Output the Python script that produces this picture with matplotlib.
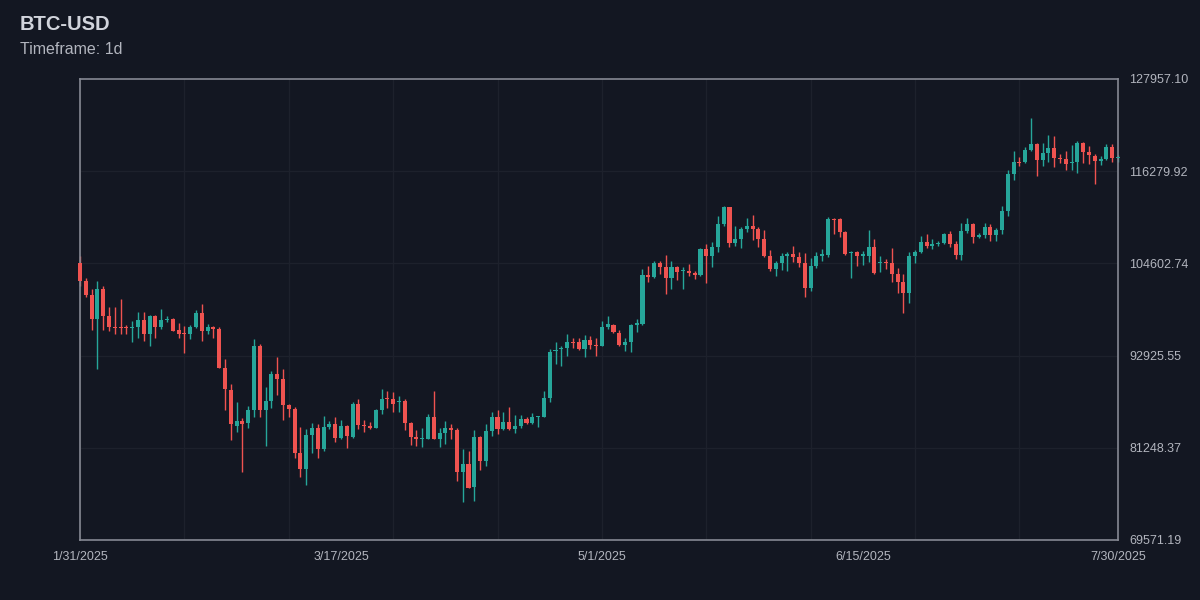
import numpy as np
import matplotlib.pyplot as plt

# daily candles, prices in thousands of USD
opens = [104.6, 102.4, 100.6, 97.6, 101.4, 97.9, 96.6, 96.5, 96.5, 96.4,
         96.5, 97.4, 95.7, 97.9, 96.5, 97.4, 97.6, 96.2, 95.7, 95.6,
         96.6, 98.3, 96.1, 96.5, 96.3, 91.4, 88.6, 84.0, 84.7, 84.4,
         86.0, 94.2, 86.0, 87.2, 90.6, 89.9, 86.7, 86.1, 80.6, 78.6,
         82.9, 83.7, 81.1, 83.9, 84.3, 82.5, 84.0, 82.6, 86.8, 84.1,
         84.0, 83.8, 86.0, 87.5, 87.4, 87.0, 87.2, 84.4, 82.6, 82.3,
         82.4, 85.1, 82.4, 83.1, 83.8, 83.5, 78.2, 79.2, 76.3, 82.6,
         79.6, 83.4, 85.2, 83.6, 84.5, 83.6, 84.0, 84.9, 84.4, 85.1,
         85.2, 87.5, 93.5, 93.7, 93.9, 94.6, 94.6, 93.7, 94.9, 94.3,
         94.2, 96.5, 96.8, 95.8, 94.3, 94.7, 96.8, 96.9, 103.1, 102.9,
         104.7, 104.1, 102.8, 104.1, 103.6, 103.6, 103.4, 103.1, 106.4, 105.6,
         106.7, 109.6, 111.7, 107.2, 107.7, 109.0, 109.3, 108.9, 107.7, 105.6,
         103.9, 104.6, 105.6, 105.8, 105.4, 104.7, 101.5, 104.3, 105.6, 105.7,
         110.2, 110.2, 108.6, 105.9, 106.0, 105.6, 105.5, 106.7, 104.6, 104.8,
         104.6, 103.3, 102.2, 100.9, 105.5, 106.0, 107.3, 106.8, 107.0, 107.2,
         108.3, 107.1, 105.7, 108.7, 109.6, 108.0, 108.2, 109.2, 108.2, 108.8,
         111.2, 115.9, 117.4, 117.4, 119.0, 119.7, 117.7, 118.6, 119.2, 117.9,
         117.8, 117.3, 117.4, 119.9, 118.7, 118.2, 117.6, 117.8, 119.3, 117.9]
highs = [105.5, 102.7, 101.4, 102.4, 101.7, 99.1, 99.1, 100.1, 96.8, 97.3,
         98.4, 98.5, 98.1, 98.1, 98.8, 97.9, 97.7, 97.0, 96.7, 96.8,
         98.7, 99.5, 96.9, 96.7, 96.5, 92.5, 89.3, 87.0, 85.0, 86.5,
         95.0, 94.4, 88.9, 91.0, 92.8, 91.2, 86.8, 86.4, 83.9, 83.6,
         84.4, 84.2, 85.3, 84.6, 85.1, 84.8, 84.1, 87.1, 87.4, 84.8,
         84.5, 86.1, 88.7, 88.5, 88.3, 87.8, 87.4, 84.5, 83.5, 83.8,
         85.5, 88.4, 83.8, 84.6, 84.2, 83.7, 81.1, 80.8, 83.5, 82.7,
         84.3, 85.8, 86.0, 85.8, 86.4, 85.4, 85.4, 85.1, 85.6, 85.3,
         88.5, 93.7, 94.6, 94.1, 95.7, 95.2, 95.2, 95.5, 95.4, 95.2,
         97.3, 97.9, 96.9, 96.2, 95.1, 96.9, 97.6, 103.9, 104.3, 104.9,
         104.9, 105.7, 104.9, 104.3, 104.1, 104.5, 103.6, 106.5, 107.0, 107.3,
         110.6, 111.9, 111.8, 109.3, 109.2, 110.3, 110.7, 109.2, 108.8, 106.3,
         104.9, 105.9, 106.0, 106.8, 106.0, 105.9, 105.3, 106.0, 106.4, 110.5,
         110.4, 110.4, 108.7, 106.2, 106.2, 106.2, 108.8, 107.7, 105.5, 105.2,
         106.5, 104.0, 103.3, 106.0, 106.3, 108.1, 108.3, 107.7, 107.5, 108.4,
         108.7, 107.4, 109.7, 110.4, 109.7, 108.4, 109.7, 109.6, 109.1, 111.9,
         116.4, 118.8, 118.1, 119.3, 123.0, 119.9, 119.9, 120.9, 120.7, 118.4,
         118.8, 119.6, 120.1, 120.0, 119.5, 118.4, 118.2, 119.7, 119.7, 118.3]
lows = [101.8, 100.3, 96.2, 91.2, 96.2, 96.1, 95.7, 95.6, 95.7, 94.7,
        95.2, 94.8, 94.1, 95.2, 96.3, 97.2, 96.0, 95.2, 93.3, 95.0,
        96.4, 94.8, 95.7, 95.2, 91.3, 86.0, 82.2, 83.2, 78.2, 83.8,
        85.1, 85.1, 81.5, 86.3, 87.9, 84.8, 85.2, 80.0, 77.5, 76.6,
        80.6, 79.9, 80.8, 83.6, 82.0, 82.4, 81.2, 82.5, 83.6, 83.2,
        83.6, 83.8, 85.5, 86.3, 85.8, 85.8, 83.5, 81.6, 81.5, 81.3,
        82.4, 82.3, 81.3, 81.7, 82.4, 77.1, 74.4, 76.1, 74.5, 78.4,
        78.9, 82.8, 83.0, 83.5, 83.5, 83.1, 83.7, 84.3, 84.3, 83.9,
        85.1, 87.1, 91.9, 91.6, 92.9, 93.9, 93.6, 92.8, 93.7, 92.9,
        94.1, 96.3, 95.8, 94.2, 93.5, 93.4, 95.9, 96.8, 102.3, 102.8,
        103.3, 100.7, 101.4, 102.5, 101.4, 103.0, 102.6, 103.0, 102.1, 104.2,
        106.1, 109.3, 106.7, 106.8, 106.6, 108.6, 107.6, 106.7, 105.4, 103.6,
        103.0, 103.8, 103.6, 104.8, 104.2, 100.4, 101.1, 104.0, 104.9, 105.4,
        108.3, 108.0, 105.7, 102.8, 104.3, 104.4, 104.8, 103.3, 103.5, 103.9,
        102.3, 100.9, 98.3, 99.6, 104.7, 105.9, 106.5, 106.4, 106.8, 107.1,
        106.7, 105.2, 105.0, 108.5, 107.2, 107.8, 107.8, 107.5, 107.5, 108.3,
        110.6, 115.2, 116.9, 117.3, 118.9, 115.7, 117.0, 117.4, 116.8, 117.3,
        116.4, 116.4, 116.1, 117.3, 117.2, 114.7, 117.1, 117.7, 117.4, 117.5]
closes = [102.4, 100.6, 97.6, 101.4, 97.9, 96.5, 96.4, 96.4, 96.4, 96.5,
          97.4, 95.7, 97.9, 96.5, 97.4, 97.6, 96.1, 95.7, 95.6, 96.6,
          98.3, 96.1, 96.5, 96.3, 91.4, 88.7, 84.3, 84.6, 84.3, 86.0,
          94.2, 86.0, 87.2, 90.6, 89.9, 86.7, 86.1, 80.6, 78.6, 82.9,
          83.7, 81.1, 83.9, 84.3, 82.5, 84.0, 82.7, 86.8, 84.1, 84.0,
          83.8, 86.0, 87.4, 87.4, 86.8, 87.2, 84.4, 82.6, 82.3, 82.5,
          85.1, 82.4, 83.1, 83.8, 83.5, 78.2, 79.2, 76.2, 82.6, 79.6,
          83.4, 85.2, 83.6, 84.5, 83.6, 84.0, 84.9, 84.4, 85.1, 85.2,
          87.5, 93.4, 93.6, 93.8, 94.6, 94.5, 93.7, 94.9, 94.3, 94.2,
          96.5, 96.9, 95.9, 94.3, 94.7, 96.8, 97.0, 103.1, 102.9, 104.7,
          104.1, 102.8, 104.1, 103.5, 103.7, 103.4, 103.1, 106.4, 105.6, 106.7,
          109.6, 111.7, 107.2, 107.7, 109.0, 109.3, 108.9, 107.7, 105.6, 103.9,
          104.6, 105.6, 105.8, 105.4, 104.7, 101.5, 104.3, 105.6, 105.7, 110.2,
          110.1, 108.6, 105.8, 106.0, 105.5, 105.7, 106.7, 103.4, 104.8, 104.7,
          103.3, 102.2, 100.9, 105.5, 106.0, 107.3, 106.8, 107.0, 107.2, 108.3,
          107.1, 105.7, 108.7, 109.6, 108.0, 108.2, 109.2, 108.2, 108.8, 111.2,
          115.9, 117.4, 117.3, 119.0, 119.7, 117.7, 118.6, 119.2, 117.9, 117.8,
          117.2, 117.4, 119.9, 118.7, 118.3, 117.6, 117.8, 119.3, 117.9, 118.0]

date_ticks = [0, 45, 90, 135, 179]
date_labels = ['1/31/2025', '3/17/2025', '5/1/2025', '6/15/2025', '7/30/2025']
y_min, y_max = 69571.19, 127957.10

bg = '#131722'
up_col = '#26a69a'
down_col = '#ef5350'

o = np.array(opens) * 1000
h = np.array(highs) * 1000
l = np.array(lows) * 1000
c = np.array(closes) * 1000
x = np.arange(len(o))
cols = np.where(c >= o, up_col, down_col)

fig = plt.figure(figsize=(12, 6), dpi=100, facecolor=bg)
ax = fig.add_axes([80 / 1200, 60 / 600, 1038 / 1200, 461 / 600])
ax.set_facecolor(bg)

# grid
for gx in range(0, 179, 18):
    ax.axvline(gx, color='#1d212c', lw=1, zorder=0)
yt = np.linspace(y_min, y_max, 6)
for gy in yt[1:-1]:
    ax.axhline(gy, color='#1d212c', lw=1, zorder=0)

# candles
ax.vlines(x, l, h, colors=cols, lw=1, zorder=2, clip_on=False)
body_lo = np.minimum(o, c)
body_h = np.maximum(np.abs(c - o), 130)
ax.bar(x, body_h, bottom=body_lo, width=0.7, color=cols, lw=0, zorder=3, clip_on=False)

ax.set_xlim(0, 179)
ax.set_ylim(y_min, y_max)
ax.set_xticks(date_ticks)
ax.set_xticklabels(date_labels)
ax.set_yticks(yt)
ax.set_yticklabels(['%.2f' % v for v in yt])
ax.yaxis.tick_right()
ax.tick_params(axis='both', length=0, colors='#b2b5be', labelsize=9)
ax.tick_params(axis='y', pad=8)
ax.tick_params(axis='x', pad=8)
for t in ax.get_xticklabels() + ax.get_yticklabels():
    t.set_fontfamily('Liberation Sans')
for s in ax.spines.values():
    s.set_color('#868993')
    s.set_linewidth(1.2)

fig.text(20 / 1200, 1 - 25 / 600, 'BTC-USD', color='#d1d4dc', fontsize=14.5, fontweight='bold',
         family='Liberation Sans', va='center', ha='left')
fig.text(20 / 1200, 1 - 50 / 600, 'Timeframe: 1d', color='#b2b5be', fontsize=11.5,
         family='Liberation Sans', va='center', ha='left')

fig.savefig('out.png', dpi=100, facecolor=bg)
